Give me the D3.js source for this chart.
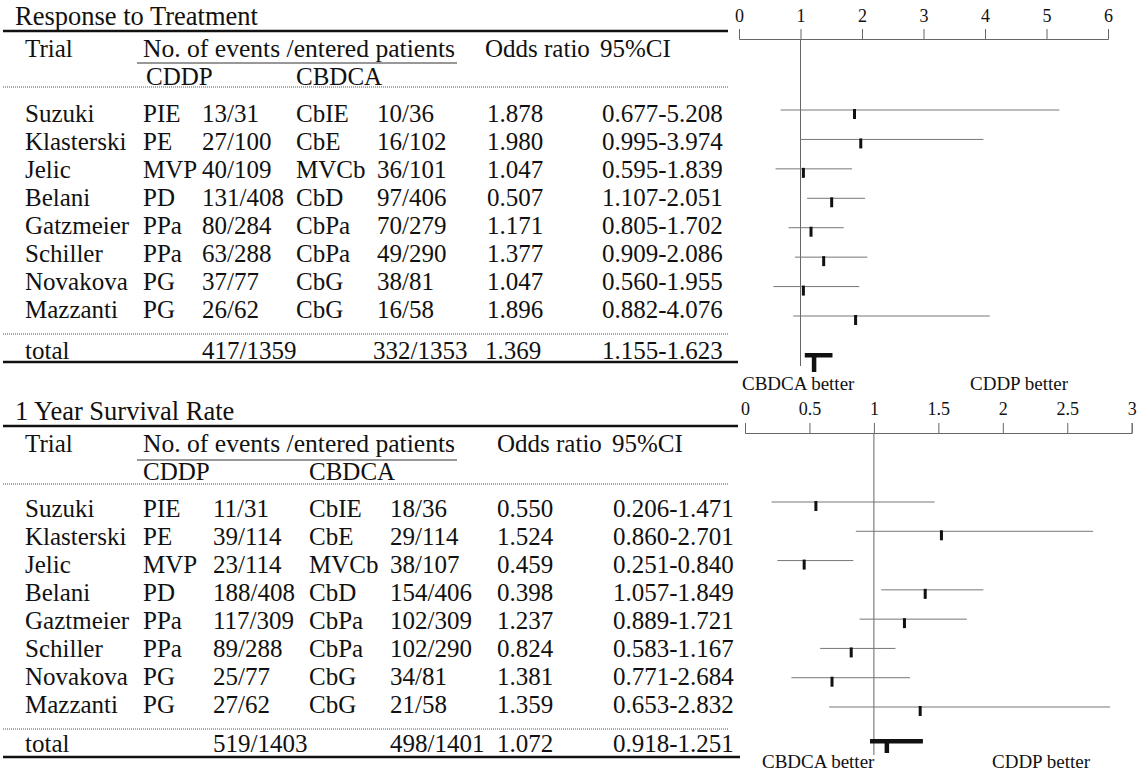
<!DOCTYPE html>
<html>
<head>
<meta charset="utf-8">
<script src="https://cdn.jsdelivr.net/npm/d3@7"></script>
<style>
  body { margin: 0; background: #fff; }
  text { font-family: "Liberation Serif", "Times New Roman", serif; fill: #111; }
</style>
</head>
<body>
<svg id="chart" width="1141" height="772"></svg>
<script>
// ---------------- data: Response to Treatment ----------------
const trials1 = ["Suzuki", "Klasterski", "Jelic", "Belani", "Gatzmeier", "Schiller", "Novakova", "Mazzanti"];
const cddpReg1 = ["PIE", "PE", "MVP", "PD", "PPa", "PPa", "PG", "PG"];
const cddpEv1 = ["13/31", "27/100", "40/109", "131/408", "80/284", "63/288", "37/77", "26/62"];
const cbdcaReg1 = ["CbIE", "CbE", "MVCb", "CbD", "CbPa", "CbPa", "CbG", "CbG"];
const cbdcaEv1 = ["10/36", "16/102", "36/101", "97/406", "70/279", "49/290", "38/81", "16/58"];
const oddsTxt1 = ["1.878", "1.980", "1.047", "0.507", "1.171", "1.377", "1.047", "1.896"];
const ciTxt1 = ["0.677-5.208", "0.995-3.974", "0.595-1.839", "1.107-2.051", "0.805-1.702", "0.909-2.086", "0.560-1.955", "0.882-4.076"];
const total1 = ["total", "", "417/1359", "", "332/1353", "1.369", "1.155-1.623"];
// values as drawn in the forest plot
const plotLo1 = [0.677, 0.995, 0.595, 1.107, 0.805, 0.909, 0.560, 0.882];
const plotHi1 = [5.208, 3.974, 1.839, 2.051, 1.702, 2.086, 1.955, 4.076];
const plotPt1 = [1.878, 1.980, 1.047, 1.507, 1.171, 1.377, 1.047, 1.896];
const plotTotal1 = [1.07, 1.52, 1.22]; // lo, hi, point
const ticks1 = [0, 1, 2, 3, 4, 5, 6];

// ---------------- data: 1 Year Survival Rate ----------------
const trials2 = ["Suzuki", "Klasterski", "Jelic", "Belani", "Gaztmeier", "Schiller", "Novakova", "Mazzanti"];
const cddpReg2 = ["PIE", "PE", "MVP", "PD", "PPa", "PPa", "PG", "PG"];
const cddpEv2 = ["11/31", "39/114", "23/114", "188/408", "117/309", "89/288", "25/77", "27/62"];
const cbdcaReg2 = ["CbIE", "CbE", "MVCb", "CbD", "CbPa", "CbPa", "CbG", "CbG"];
const cbdcaEv2 = ["18/36", "29/114", "38/107", "154/406", "102/309", "102/290", "34/81", "21/58"];
const oddsTxt2 = ["0.550", "1.524", "0.459", "0.398", "1.237", "0.824", "1.381", "1.359"];
const ciTxt2 = ["0.206-1.471", "0.860-2.701", "0.251-0.840", "1.057-1.849", "0.889-1.721", "0.583-1.167", "0.771-2.684", "0.653-2.832"];
const total2 = ["total", "", "519/1403", "", "498/1401", "1.072", "0.918-1.251"];
const plotLo2 = [0.206, 0.860, 0.251, 1.057, 0.889, 0.583, 0.36, 0.653];
const plotHi2 = [1.471, 2.701, 0.840, 1.849, 1.721, 1.167, 1.28, 2.832];
const plotPt2 = [0.550, 1.524, 0.459, 1.398, 1.237, 0.824, 0.675, 1.359];
const plotTotal2 = [0.97, 1.38, 1.10];
const ticks2 = [0, 0.5, 1, 1.5, 2, 2.5, 3];

const svg = d3.select("#chart");

function drawTable(g, t) {
    const fs = 25;
    // title + thick rule
    g.append("text").attr("x", 15).attr("y", 25).attr("font-size", 26.5).text(t.title);
    g.append("line")
        .attr("x1", 3).attr("x2", t.titleRuleEnd)
        .attr("y1", 31).attr("y2", 31)
        .attr("stroke", "#111").attr("stroke-width", 2.5);

    // header row
    g.append("text").attr("x", 25).attr("y", 57).attr("font-size", fs).text("Trial");
    g.append("text").attr("x", 143).attr("y", 57).attr("font-size", 25.6).text("No. of events /entered patients");
    g.append("line")
        .attr("x1", 137).attr("x2", 457)
        .attr("y1", t.headRuleY).attr("y2", t.headRuleY)
        .attr("stroke", "#333").attr("stroke-width", 1.2);
    g.append("text").attr("x", t.hdr.or).attr("y", 57).attr("font-size", fs).text("Odds ratio");
    g.append("text").attr("x", t.hdr.ci).attr("y", 57).attr("font-size", fs).text("95%CI");
    g.append("text").attr("x", t.hdr.cddp).attr("y", t.subY).attr("font-size", fs).text("CDDP");
    g.append("text").attr("x", t.hdr.cbdca).attr("y", t.subY).attr("font-size", fs).text("CBDCA");

    // dotted separators
    [t.dotY, 334].forEach(function (yy) {
        g.append("line")
            .attr("x1", 3).attr("x2", 728)
            .attr("y1", yy).attr("y2", yy)
            .attr("stroke", "#555").attr("stroke-width", 1)
            .attr("stroke-dasharray", "1,1");
    });

    // body rows
    const rowY = d3.scaleLinear().domain([0, 7]).range([122, 318]);
    const rows = t.trials.map(function (d, i) {
        return [d, t.reg1[i], t.ev1[i], t.reg2[i], t.ev2[i], t.or[i], t.ci[i]];
    });
    const rowG = g.selectAll(".row")
        .data(rows)
        .enter()
        .append("g")
        .attr("class", "row")
        .attr("transform", function (d, i) { return "translate(0," + rowY(i) + ")"; });

    rowG.selectAll("text")
        .data(function (d) { return d; })
        .enter()
        .append("text")
        .attr("x", function (d, j) { return t.cols[j]; })
        .attr("font-size", fs)
        .text(function (d) { return d; });

    // total row
    g.selectAll(".tot")
        .data(t.total)
        .enter()
        .append("text")
        .attr("class", "tot")
        .attr("x", function (d, j) { return t.totalCols[j]; })
        .attr("y", t.totalY)
        .attr("font-size", fs)
        .text(function (d) { return d; });

    g.append("line")
        .attr("x1", 3).attr("x2", t.totalRuleEnd)
        .attr("y1", t.totalRuleY).attr("y2", t.totalRuleY)
        .attr("stroke", "#111").attr("stroke-width", 2.5);
}

function drawForest(g, f) {
    const x = d3.scaleLinear().domain([0, f.max]).range([f.x0, f.x1]);
    const y = d3.scaleLinear().domain([0, 7]).range(f.rowRange);

    // axis on top with ticks pointing up
    const axis = g.append("g")
        .attr("transform", "translate(0," + f.axisY + ")")
        .call(d3.axisTop(x)
            .tickValues(f.ticks)
            .tickSize(10)
            .tickPadding(f.pad)
            .tickFormat(function (d) { return String(d); }));
    axis.select(".domain").attr("stroke", "#666");
    axis.selectAll(".tick line").attr("stroke", "#666");
    axis.selectAll(".tick text")
        .attr("font-size", 18)
        .attr("font-family", "Liberation Serif, serif")
        .attr("fill", "#111");

    // no-effect line at 1
    g.append("line")
        .attr("x1", x(1)).attr("x2", x(1))
        .attr("y1", f.axisY).attr("y2", f.refEnd)
        .attr("stroke", "#666").attr("stroke-width", 1);

    // confidence intervals
    g.selectAll(".ci")
        .data(f.lo)
        .enter()
        .append("line")
        .attr("class", "ci")
        .attr("x1", function (d) { return x(d); })
        .attr("x2", function (d, i) { return x(f.hi[i]); })
        .attr("y1", function (d, i) { return y(i); })
        .attr("y2", function (d, i) { return y(i); })
        .attr("stroke", "#777").attr("stroke-width", 1);

    // point estimates (short vertical marks)
    g.selectAll(".pt")
        .data(f.pt)
        .enter()
        .append("rect")
        .attr("class", "pt")
        .attr("x", function (d) { return x(d) - 1.5; })
        .attr("y", function (d, i) { return y(i) - 1; })
        .attr("width", 3)
        .attr("height", 10)
        .attr("fill", "#111");

    // pooled estimate: thick T
    g.append("rect")
        .attr("x", x(f.total[0])).attr("y", f.totalY - 2)
        .attr("width", x(f.total[1]) - x(f.total[0]))
        .attr("height", 4.5)
        .attr("fill", "#111");
    g.append("rect")
        .attr("x", x(f.total[2]) - 2.2).attr("y", f.totalY)
        .attr("width", 4.5)
        .attr("height", f.stem)
        .attr("fill", "#111");

    g.append("text").attr("x", f.lblL).attr("y", f.lblY).attr("font-size", 19).text("CBDCA better");
    g.append("text").attr("x", f.lblR).attr("y", f.lblY).attr("font-size", 19).text("CDDP better");
}

// ---- top section ----
const topSec = svg.append("g");
drawTable(topSec, {
    title: "Response to Treatment",
    titleRuleEnd: 728, totalRuleEnd: 738, headRuleY: 63,
    subY: 85, dotY: 87, totalY: 359, totalRuleY: 362,
    hdr: { or: 485, ci: 600, cddp: 146, cbdca: 296 },
    cols: [25, 143, 202, 296, 377, 487, 602],
    totalCols: [25, 143, 202, 296, 373, 485, 602],
    trials: trials1, reg1: cddpReg1, ev1: cddpEv1, reg2: cbdcaReg1, ev2: cbdcaEv1,
    or: oddsTxt1, ci: ciTxt1, total: total1
});
drawForest(topSec, {
    max: 6, x0: 739, x1: 1108, ticks: ticks1, axisY: 39, pad: 7,
    rowRange: [110, 316], refEnd: 366,
    lo: plotLo1, hi: plotHi1, pt: plotPt1, total: plotTotal1,
    totalY: 355, stem: 17,
    lblL: 742, lblR: 970, lblY: 390
});

// ---- bottom section ----
const bottomSec = svg.append("g").attr("transform", "translate(0,395)");
drawTable(bottomSec, {
    title: "1 Year Survival Rate",
    titleRuleEnd: 738, totalRuleEnd: 740, headRuleY: 65,
    subY: 85, dotY: 89, totalY: 357, totalRuleY: 362,
    hdr: { or: 497, ci: 612, cddp: 143, cbdca: 309 },
    cols: [25, 143, 213, 309, 390, 497, 613],
    totalCols: [25, 143, 213, 309, 390, 497, 613],
    trials: trials2, reg1: cddpReg2, ev1: cddpEv2, reg2: cbdcaReg2, ev2: cbdcaEv2,
    or: oddsTxt2, ci: ciTxt2, total: total2
});
drawForest(bottomSec, {
    max: 3, x0: 745, x1: 1131.7, ticks: ticks2, axisY: 38, pad: 8,
    rowRange: [107, 312], refEnd: 360,
    lo: plotLo2, hi: plotHi2, pt: plotPt2, total: plotTotal2,
    totalY: 346, stem: 12,
    lblL: 762, lblR: 992, lblY: 373
});
</script>
</body>
</html>
